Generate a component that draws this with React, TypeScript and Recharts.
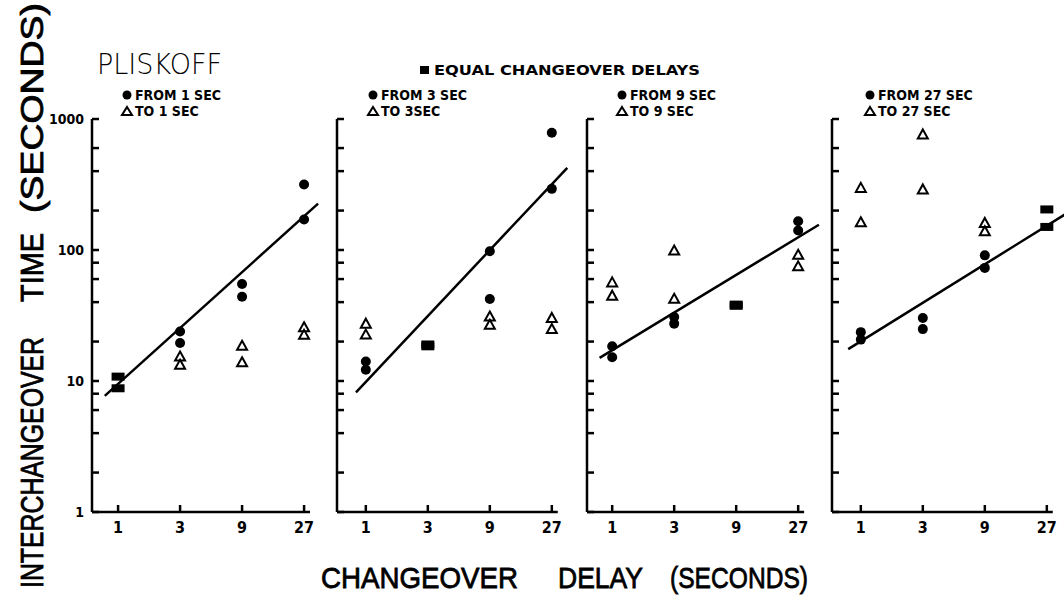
import React from 'react'
import { ScatterChart, Scatter, XAxis, YAxis, ReferenceLine } from 'recharts'

type Pt = [number, number]

const DELAYS = [1, 3, 9, 27]
const Y_TICKS = [1, 2, 4, 6, 8, 10, 20, 40, 60, 80, 100, 200, 400, 600, 1000]
const Y_LABELS = [1, 10, 100, 1000]

// 1-sec panel
const FROM_1: Pt[] = [[3, 23.9], [3, 19.5], [9, 55], [9, 44], [27, 316], [27, 171]]
const TO_1: Pt[] = [[3, 15.4], [3, 13.3], [9, 18.6], [9, 13.9], [27, 25.7], [27, 22.5]]
const EQUAL_1: Pt[] = [[1, 10.8], [1, 8.8]]
const FIT_1: Pt[] = [[0.79, 7.7], [34.6, 226]]

// 3-sec panel
const FROM_3: Pt[] = [[1, 14.1], [1, 12.2], [9, 97.8], [9, 42.3], [27, 785], [27, 293]]
const TO_3: Pt[] = [[1, 27.4], [1, 22.6], [9, 31.1], [9, 26.9], [27, 30.3], [27, 24.9]]
const EQUAL_3: Pt[] = [[3, 19], [3, 18.4]]
const FIT_3: Pt[] = [[0.84, 8.2], [35.5, 424]]

// 9-sec panel
const FROM_9: Pt[] = [[1, 18.4], [1, 15.2], [3, 30.8], [3, 27.4], [27, 166], [27, 141]]
const TO_9: Pt[] = [[1, 56.6], [1, 44.8], [3, 99], [3, 42.4], [27, 92], [27, 75]]
const EQUAL_9: Pt[] = [[9, 38.3], [9, 37.5]]
const FIT_9: Pt[] = [[0.8, 15], [39, 156]]

// 27-sec panel
const FROM_27: Pt[] = [[1, 23.6], [1, 20.7], [3, 30.3], [3, 24.9], [9, 91], [9, 73]]
const TO_27: Pt[] = [[1, 298], [1, 163], [3, 763], [3, 290], [9, 161], [9, 139]]
const EQUAL_27: Pt[] = [[27, 204], [27, 150]]
const FIT_27: Pt[] = [[0.8, 17.5], [37.3, 187]]

const FROM_LABELS = ['FROM 1 SEC', 'FROM 3 SEC', 'FROM 9 SEC', 'FROM 27 SEC']
const TO_LABELS = ['TO 1 SEC', 'TO 3SEC', 'TO 9 SEC', 'TO 27 SEC']

const toPoints = (pts: Pt[]) => pts.map(([x, y]) => ({ x, y }))

const PANELS = [
  { from: FROM_1, to: TO_1, equal: EQUAL_1, fit: FIT_1, axisX: 92, xMin: 0.63, legendX: 127 },
  { from: FROM_3, to: TO_3, equal: EQUAL_3, fit: FIT_3, axisX: 337, xMin: 0.6, legendX: 373 },
  { from: FROM_9, to: TO_9, equal: EQUAL_9, fit: FIT_9, axisX: 587, xMin: 0.64, legendX: 622 },
  { from: FROM_27, to: TO_27, equal: EQUAL_27, fit: FIT_27, axisX: 832, xMin: 0.6, legendX: 870 },
]

const X_MAX = 40
const X_AXIS_END = 30
const PX_PER_LOG3 = 62
const PLOT_TOP = 119
const PLOT_H = 393
const AXIS_W = 20
const M_LEFT = 40
const M_RIGHT = 10
const M_TOP = 19
const M_BOTTOM = 20
const AXIS_H = 20

const INK = '#000'
const LABEL_FONT = "'Liberation Sans Narrow', 'DejaVu Sans Condensed', 'Liberation Sans', sans-serif"
const TITLE_FONT = "'Liberation Sans', Arial, sans-serif"

const Dot = ({ cx, cy }: any) => <circle cx={cx} cy={cy} r={5} fill={INK} />
const Tri = ({ cx, cy }: any) => (
  <path
    d={`M${cx},${cy - 5} L${cx + 5},${cy + 4} L${cx - 5},${cy + 4} Z`}
    fill="#fff"
    stroke={INK}
    strokeWidth={2}
  />
)
const Block = ({ cx, cy }: any) => <rect x={cx - 6.5} y={cy - 4} width={13} height={8} fill={INK} />
const NoMark = () => <g />

// ticks point into the plot; x,y arrive at the axis line because tickSize and tickMargin are 0
const YTick = ({ x, y, payload, showLabels }: any) => (
  <g>
    <line x1={x} x2={x + 7} y1={y} y2={y} stroke={INK} strokeWidth={2.5} />
    {showLabels && Y_LABELS.includes(payload.value) && (
      <text
        x={x - 8}
        y={y + 5}
        textAnchor="end"
        fontFamily={LABEL_FONT}
        fontWeight="bold"
        fontSize={14}
        fill={INK}
      >
        {payload.value}
      </text>
    )}
  </g>
)

const XTick = ({ x, y, payload }: any) => (
  <g>
    <line x1={x} x2={x} y1={y} y2={y - 7} stroke={INK} strokeWidth={2.5} />
    <text
      x={x}
      y={y + 21}
      textAnchor="middle"
      fontFamily={LABEL_FONT}
      fontWeight="bold"
      fontSize={16}
      fill={INK}
    >
      {payload.value}
    </text>
  </g>
)

const Panel = ({ panel, index }: { panel: (typeof PANELS)[number]; index: number }) => {
  const plotW = (PX_PER_LOG3 * Math.log(X_MAX / panel.xMin)) / Math.log(3)
  const width = M_LEFT + AXIS_W + plotW + M_RIGHT
  const height = M_TOP + PLOT_H + AXIS_H + M_BOTTOM
  return (
    <div
      style={{ position: 'absolute', left: panel.axisX - M_LEFT - AXIS_W, top: PLOT_TOP - M_TOP }}
    >
      <ScatterChart
        width={width}
        height={height}
        margin={{ top: M_TOP, right: M_RIGHT, left: M_LEFT, bottom: M_BOTTOM }}
      >
        <XAxis
          type="number"
          dataKey="x"
          scale="log"
          domain={[panel.xMin, X_MAX]}
          allowDataOverflow
          ticks={DELAYS}
          interval={0}
          axisLine={false}
          tickLine={false}
          tickSize={0}
          tickMargin={0}
          height={AXIS_H}
          tick={<XTick />}
        />
        <YAxis
          type="number"
          dataKey="y"
          scale="log"
          domain={[1, 1000]}
          allowDataOverflow
          ticks={Y_TICKS}
          interval={0}
          axisLine={{ stroke: INK, strokeWidth: 2.5 }}
          tickLine={false}
          tickSize={0}
          tickMargin={0}
          width={AXIS_W}
          tick={<YTick showLabels={index === 0} />}
        />
        <ReferenceLine
          segment={[
            { x: panel.xMin, y: 1 },
            { x: X_AXIS_END, y: 1 },
          ]}
          stroke={INK}
          strokeWidth={2.5}
        />
        <Scatter
          data={toPoints(panel.fit)}
          line={{ stroke: INK, strokeWidth: 2.5 }}
          shape={<NoMark />}
          isAnimationActive={false}
        />
        <Scatter data={toPoints(panel.equal)} shape={<Block />} isAnimationActive={false} />
        <Scatter data={toPoints(panel.to)} shape={<Tri />} isAnimationActive={false} />
        <Scatter data={toPoints(panel.from)} shape={<Dot />} isAnimationActive={false} />
      </ScatterChart>
    </div>
  )
}

const legendText = {
  fontFamily: LABEL_FONT,
  fontWeight: 'bold' as const,
  fontSize: 14,
  fill: INK,
}

export default function App() {
  return (
    <div
      style={{ position: 'absolute', left: 0, top: 0, width: 1064, height: 597, background: '#fff' }}
    >
      {PANELS.map((p, i) => (
        <Panel key={i} panel={p} index={i} />
      ))}
      <svg
        width={1064}
        height={597}
        style={{ position: 'absolute', left: 0, top: 0, pointerEvents: 'none' }}
      >
        <text
          x={97}
          y={74}
          fontFamily="'DejaVu Sans', sans-serif"
          fontWeight={200}
          fontSize={28}
          textLength={125}
          lengthAdjust="spacingAndGlyphs"
          fill={INK}
        >
          PLISKOFF
        </text>

        <rect x={420} y={66} width={9} height={8} fill={INK} />
        <text x={434} y={75} {...legendText} textLength={266} lengthAdjust="spacingAndGlyphs">
          EQUAL  CHANGEOVER  DELAYS
        </text>

        {PANELS.map((p, i) => (
          <g key={i}>
            <circle cx={p.legendX} cy={95} r={4.5} fill={INK} />
            <text x={p.legendX + 8} y={100} {...legendText}>
              {FROM_LABELS[i]}
            </text>
            <path
              d={`M${p.legendX},${107} L${p.legendX + 5},${115} L${p.legendX - 5},${115} Z`}
              fill="#fff"
              stroke={INK}
              strokeWidth={2}
            />
            <text x={p.legendX + 8} y={116} {...legendText}>
              {TO_LABELS[i]}
            </text>
          </g>
        ))}

        <g
          transform="translate(43, 588) rotate(-90)"
          fontFamily={TITLE_FONT}
          fontSize={31}
          fill={INK}
          stroke={INK}
          strokeWidth={0.8}
        >
          <text x={0} y={0} textLength={251} lengthAdjust="spacingAndGlyphs">
            INTERCHANGEOVER
          </text>
          <text x={286} y={0} textLength={69} lengthAdjust="spacingAndGlyphs">
            TIME
          </text>
          <text x={375} y={0} textLength={210} lengthAdjust="spacingAndGlyphs">
            (SECONDS)
          </text>
        </g>

        <g fontFamily={TITLE_FONT} fontSize={30} fill={INK} stroke={INK} strokeWidth={0.8}>
          <text x={321} y={588} textLength={197} lengthAdjust="spacingAndGlyphs">
            CHANGEOVER
          </text>
          <text x={558} y={588} textLength={85} lengthAdjust="spacingAndGlyphs">
            DELAY
          </text>
          <text x={670} y={588} textLength={138} lengthAdjust="spacingAndGlyphs">
            (SECONDS)
          </text>
        </g>
      </svg>
    </div>
  )
}
